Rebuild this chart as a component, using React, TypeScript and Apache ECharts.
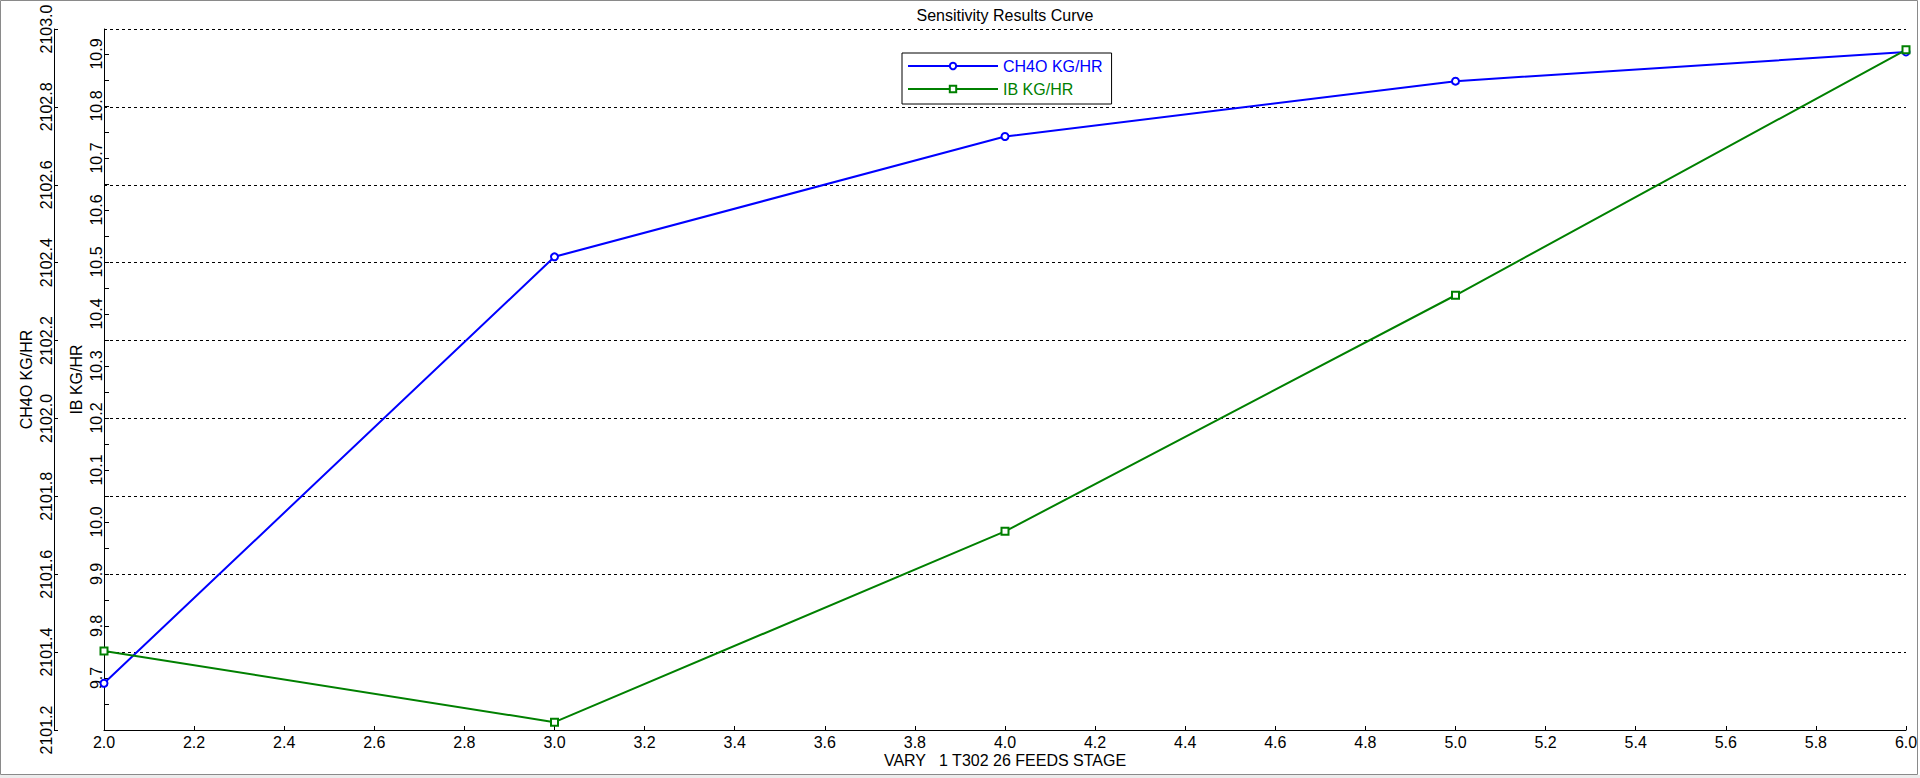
import React, { useEffect, useRef } from 'react';
import * as echarts from 'echarts';

// sensitivity case: feed stage of T302 vs. product flows
const stages = [2, 3, 4, 5, 6];
const ch4oKgHr = [2101.32, 2102.415, 2102.724, 2102.866, 2102.941];
const ibKgHr = [9.752, 9.615, 9.982, 10.436, 10.908];

const ibLabelValues = [9.7, 9.8, 9.9, 10.0, 10.1, 10.2, 10.3, 10.4, 10.5, 10.6, 10.7, 10.8, 10.9];
const ibTickValues = [
  9.65, 9.7, 9.75, 9.8, 9.85, 9.9, 9.95, 10.0, 10.05, 10.1, 10.15, 10.2, 10.25, 10.3,
  10.35, 10.4, 10.45, 10.5, 10.55, 10.6, 10.65, 10.7, 10.75, 10.8, 10.85, 10.9
];

const FONT = 'Liberation Sans, Arial, sans-serif';

const App = () => {
  const chartRef = useRef(null);

  useEffect(() => {
    const chart = echarts.init(chartRef.current, null, { renderer: 'svg' });

    const axisText = { color: '#000', fontSize: 16, fontFamily: FONT };
    const blackLine = { lineStyle: { color: '#000', width: 1 } };

    const option = {
      animation: false,
      backgroundColor: '#fff',
      textStyle: { fontFamily: FONT },
      grid: { left: 104, top: 29, width: 1802, height: 701, containLabel: false, outerBoundsMode: 'none' },
      graphic: [
        {
          type: 'rect',
          silent: true,
          z: -10,
          shape: { x: 0.5, y: 0.5, width: 1917, height: 774 },
          style: { fill: 'none', stroke: '#8a8a8a', lineWidth: 1 }
        },
        {
          type: 'rect',
          silent: true,
          z: -10,
          shape: { x: 0, y: 775, width: 1920, height: 3 },
          style: { fill: '#ececec' }
        },
        {
          type: 'text',
          x: 1005,
          y: 15,
          style: {
            text: 'Sensitivity Results Curve',
            textAlign: 'center',
            textVerticalAlign: 'middle',
            fill: '#000',
            fontSize: 16,
            fontFamily: FONT
          }
        }
      ],
      legend: {
        orient: 'vertical',
        left: 902,
        top: 53,
        padding: [5, 9, 7, 5],
        itemGap: 7,
        itemWidth: 90,
        itemHeight: 8,
        borderColor: '#000',
        borderWidth: 1,
        borderRadius: 0,
        backgroundColor: '#fff',
        textStyle: { fontSize: 16, fontFamily: FONT },
        data: [
          { name: 'CH4O KG/HR', textStyle: { color: '#0000ff' } },
          { name: 'IB KG/HR', textStyle: { color: '#008000' } }
        ]
      },
      xAxis: {
        type: 'value',
        min: 2,
        max: 6,
        interval: 0.2,
        name: 'VARY   1 T302 26 FEEDS STAGE',
        nameLocation: 'middle',
        nameGap: 22,
        nameMoveOverlap: false,
        nameTextStyle: axisText,
        axisLine: blackLine,
        axisTick: { inside: true, length: 4, lineStyle: { color: '#000' } },
        axisLabel: { ...axisText, margin: 4, formatter: (v: number) => v.toFixed(1) },
        splitLine: { show: false }
      },
      yAxis: [
        {
          type: 'value',
          position: 'left',
          offset: 50,
          min: 2101.2,
          max: 2103.0,
          interval: 0.2,
          name: 'CH4O KG/HR',
          nameLocation: 'middle',
          nameRotate: 90,
          nameGap: 20,
          nameMoveOverlap: false,
          nameTextStyle: axisText,
          axisLine: { show: true, ...blackLine },
          axisTick: { show: true, inside: true, length: 4, lineStyle: { color: '#000' } },
          axisLabel: { ...axisText, rotate: 90, margin: 0, formatter: (v: number) => v.toFixed(1) },
          splitLine: { show: true, lineStyle: { color: '#000', width: 1, type: [3, 3] } }
        },
        {
          type: 'value',
          position: 'left',
          offset: 0,
          min: 9.6,
          max: 10.948,
          name: 'IB KG/HR',
          nameLocation: 'middle',
          nameRotate: 90,
          nameGap: 20,
          nameMoveOverlap: false,
          nameTextStyle: axisText,
          axisLine: { show: true, ...blackLine },
          axisTick: {
            show: true,
            inside: true,
            length: 5,
            customValues: ibTickValues,
            lineStyle: { color: '#000' }
          },
          axisLabel: {
            ...axisText,
            rotate: 90,
            margin: 0,
            customValues: ibLabelValues,
            formatter: (v: number) => v.toFixed(1)
          },
          splitLine: { show: false }
        }
      ],
      series: [
        {
          name: 'CH4O KG/HR',
          type: 'line',
          yAxisIndex: 0,
          color: '#0000ff',
          symbol: 'emptyCircle',
          symbolSize: 7,
          lineStyle: { width: 2 },
          itemStyle: { borderWidth: 1 },
          data: stages.map((s, i) => [s, ch4oKgHr[i]])
        },
        {
          name: 'IB KG/HR',
          type: 'line',
          yAxisIndex: 1,
          color: '#008000',
          symbol: 'emptyRect',
          symbolSize: 7,
          lineStyle: { width: 2 },
          itemStyle: { borderWidth: 1 },
          data: stages.map((s, i) => [s, ibKgHr[i]])
        }
      ]
    };

    chart.setOption(option);

    return () => {
      chart.dispose();
    };
  }, []);

  return (
    <div
      ref={chartRef}
      style={{ position: 'fixed', left: 0, top: 0, width: '1920px', height: '778px' }}
    />
  );
};

export default App;
